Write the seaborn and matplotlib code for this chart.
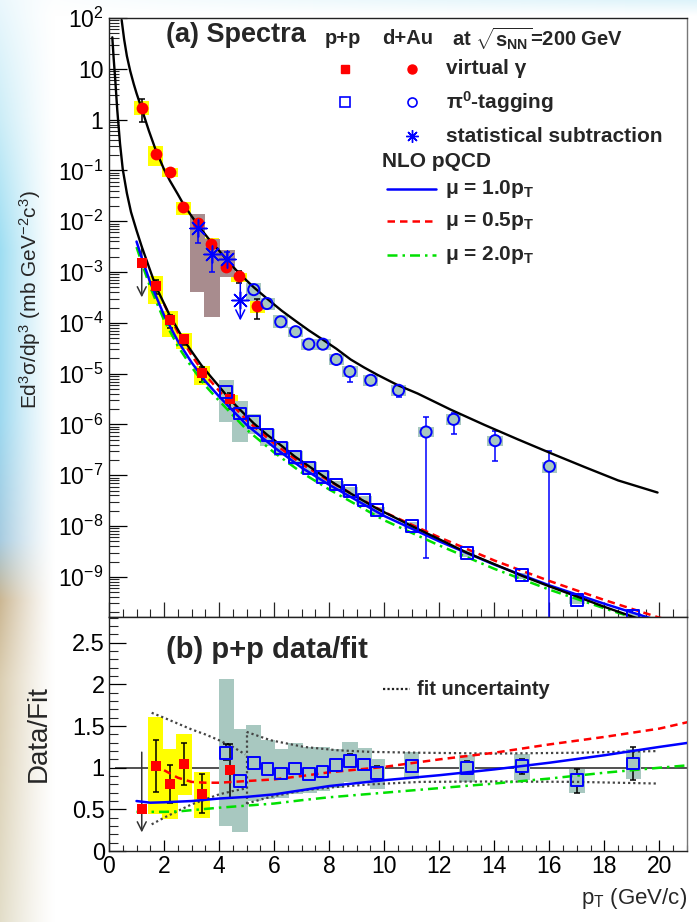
import numpy as np
import matplotlib
matplotlib.use("Agg")
import matplotlib.pyplot as plt
import seaborn as sns
from matplotlib.ticker import FixedLocator, FixedFormatter, MultipleLocator, NullFormatter, FuncFormatter

# ---------------------------------------------------------------- data
# (a) spectra: d+Au virtual photons (red circles)
dau_vg_pt = [1.19, 1.70, 2.21, 2.70, 3.22, 3.70, 4.24, 4.72, 5.39]
dau_vg_y = [1.7, 0.21, 0.091, 0.019, 0.0091, 0.0035, 0.00125, 8.3e-4, 2.1e-4]
dau_vg_hi = [2.55, 0.21, 0.091, 0.019, 0.0105, 0.0035, 0.00125, 1.07e-3, 2.9e-4]
dau_vg_lo = [0.90, 0.21, 0.091, 0.019, 0.0080, 0.0035, 0.00125, 6.0e-4, 1.17e-4]
dau_vg_sys_hi = [1.35, 1.41, 1.20, 1.26, 1.35, 1.32, 1.26, 1.17, 1.32]
dau_vg_sys_lo = [0.74, 0.59, 0.83, 0.69, 0.74, 0.76, 0.78, 0.78, 0.74]

# d+Au statistical subtraction (blue stars)
dau_ss_pt = [3.22, 3.74, 4.29]
dau_ss_y = [7.2e-3, 2.3e-3, 1.8e-3]
dau_ss_hi = [9.1e-3, 3.8e-3, 2.5e-3]
dau_ss_lo = [3.8e-3, 9.8e-4, 1.4e-3]
dau_ss_sys_hi = [1.38e-2, 4.4e-3, 2.7e-3]
dau_ss_sys_lo = [4.1e-4, 1.32e-4, 8.1e-4]
dau_ss_lim_pt = [4.77]
dau_ss_lim_y = [2.8e-4]
dau_ss_lim_top = [6.9e-4]
dau_ss_lim_tip = [9.8e-5]

# d+Au pi0 tagging (blue open circles)
dau_pi0_pt = [5.26, 5.74, 6.24, 6.78, 7.26, 7.77, 8.26, 8.75, 9.51, 10.52, 11.52, 12.52, 14.03, 16.0]
dau_pi0_y = [4.5e-4, 2.4e-4, 1.05e-4, 6.7e-5, 3.8e-5, 3.8e-5, 1.9e-5, 1.1e-5, 7.4e-6, 4.7e-6,
             7.1e-7, 1.26e-6, 4.8e-7, 1.5e-7]
dau_pi0_hi = [4.9e-4, 2.6e-4, 1.2e-4, 7.4e-5, 4.3e-5, 4.2e-5, 2.1e-5, 1.35e-5, 8.3e-6, 5.4e-6,
              1.4e-6, 1.7e-6, 7.4e-7, 3.0e-7]
dau_pi0_lo = [4.1e-4, 2.2e-4, 9.2e-5, 6.0e-5, 3.3e-5, 3.4e-5, 1.7e-5, 6.9e-6, 6.4e-6, 3.4e-6,
              2.3e-9, 6.6e-7, 1.95e-7, 1e-12]
dau_pi0_sys_hi = [1.35, 1.30, 1.35, 1.26, 1.26, 1.26, 1.30, 1.30, 1.26, 1.26, 1.26, 1.26, 1.26, 1.23]
dau_pi0_sys_lo = [0.59, 0.75, 0.74, 0.78, 0.78, 0.78, 0.78, 0.78, 0.78, 0.78, 0.78, 0.78, 0.78, 0.74]

# p+p virtual photons (red squares); ratio = data/fit
pp_vg_pt = [1.19, 1.69, 2.21, 2.73, 3.38, 4.41]
pp_vg_y = [1.48e-3, 5.4e-4, 1.12e-4, 4.8e-5, 1.02e-5, 3.1e-6]
pp_vg_ratio = [0.50, 1.025, 0.805, 1.05, 0.69, 0.97]
pp_vg_ratio_hi = [1.22, 1.33, 1.03, 1.30, 0.925, 1.29]
pp_vg_ratio_lo = [np.nan, 0.71, 0.58, 0.79, 0.46, 0.64]
pp_vg_ratio_sys_hi = [np.nan, 1.61, 1.23, 1.41, 0.95, 1.17]
pp_vg_ratio_sys_lo = [np.nan, 0.44, 0.38, 0.67, 0.40, 0.75]
pp_vg_lim_tip = 2.8e-4
pp_vg_ratio_lim_tip = 0.19

# p+p pi0 tagging (blue open squares)
pp_pi0_pt = [4.26, 4.76, 5.26, 5.76, 6.26, 6.77, 7.26, 7.76, 8.26, 8.75, 9.27, 9.75,
             11.0, 13.0, 15.0, 17.0, 19.05]
pp_pi0_y = [4.3e-6, 1.64e-6, 1.13e-6, 6.1e-7, 3.5e-7, 2.3e-7, 1.37e-7, 9.4e-8, 6.6e-8, 4.9e-8,
            3.3e-8, 2.05e-8, 1.02e-8, 3.0e-9, 1.07e-9, 3.5e-10, 1.7e-10]
pp_pi0_ratio = [1.18, 0.845, 1.06, 0.985, 0.93, 0.99, 0.92, 0.955, 1.03, 1.08, 1.04, 0.94,
                1.025, 1.00, 1.02, 0.85, 1.05]
pp_pi0_ratio_hi = [1.28, 0.91, 1.09, 1.015, 0.96, 1.02, 0.95, 0.985, 1.06, 1.16, 1.07, 1.015,
                   1.06, 1.08, 1.10, 0.98, 1.25]
pp_pi0_ratio_lo = [1.09, 0.77, 1.03, 0.955, 0.90, 0.96, 0.89, 0.925, 1.00, 1.05, 1.01, 0.86,
                   0.99, 0.95, 0.925, 0.70, 0.85]
pp_pi0_ratio_sys_hi = [2.06, 1.46, 1.51, 1.33, 1.22, 1.30, 1.25, 1.25, 1.23, 1.31, 1.24, 1.11,
                       1.19, 1.15, 1.16, 0.98, 1.22]
pp_pi0_ratio_sys_lo = [0.30, 0.23, 0.60, 0.62, 0.64, 0.68, 0.70, 0.72, 0.76, 0.83, 0.82, 0.75,
                       0.865, 0.83, 0.85, 0.70, 0.87]

# fits to the spectra
dau_fit_pt = [0.46, 0.55, 0.65, 0.77, 0.90, 1.00, 1.19, 1.45, 1.70, 2.00, 2.21, 2.50, 2.72, 3.00,
              3.35, 3.70, 4.00, 4.38, 4.72, 5.26, 5.80, 6.27, 6.80, 7.26, 7.76, 8.26, 8.78, 9.27,
              9.75, 10.5, 11.21, 12.42, 13.64, 14.85, 16.07, 17.28, 18.5, 19.93]
dau_fit_y = [91, 38, 17.8, 9.1, 5.0, 3.3, 1.62, 0.60, 0.25, 0.105, 0.063, 0.034, 0.0209, 0.0126,
             6.9e-3, 3.98e-3, 2.63e-3, 1.51e-3, 9.5e-4, 5.0e-4, 2.82e-4, 1.74e-4, 1.07e-4, 7.1e-5,
             4.7e-5, 3.09e-5, 1.9e-5, 1.32e-5, 9.5e-6, 5.9e-6, 4.07e-6, 1.95e-6, 9.8e-7, 5.1e-7,
             2.69e-7, 1.45e-7, 7.9e-8, 4.57e-8]
pp_fit_pt = [0.12, 0.17, 0.22, 0.30, 0.40, 0.50, 0.65, 0.80, 1.00, 1.19, 1.45, 1.70, 2.00, 2.21,
             2.50, 2.72, 3.00, 3.35, 3.70, 4.00, 4.38, 4.80, 5.26, 5.74, 6.27, 6.75, 7.26, 7.76,
             8.26, 8.75, 9.27, 9.75, 11.0, 12.0, 13.0, 14.0, 15.0, 16.0, 17.0, 18.0, 19.0, 20.0]
pp_fit_y = [41.7, 15.8, 6.9, 1.55, 0.339, 0.105, 0.0355, 0.0151, 6.6e-3, 3.16e-3, 1.26e-3,
            5.25e-4, 2.4e-4, 1.38e-4, 7.4e-5, 4.57e-5, 2.75e-5, 1.48e-5, 8.7e-6, 5.6e-6, 3.16e-6,
            1.86e-6, 1.05e-6, 6.3e-7, 3.8e-7, 2.34e-7, 1.51e-7, 9.8e-8, 6.5e-8, 4.47e-8, 3.09e-8,
            2.19e-8, 1.0e-8, 5.5e-9, 3.0e-9, 1.78e-9, 1.05e-9, 6.5e-10, 4.1e-10, 2.57e-10,
            1.66e-10, 1.07e-10]

# NLO pQCD, p+p
nlo10_pt = [1.0, 1.25, 1.5, 2.0, 2.5, 3.0, 3.5, 4.0, 5.0, 6.0, 7.0, 8.0, 10, 12, 14, 16, 18, 20, 20.5]
nlo10_y = [3.98e-3, 1.51e-3, 6.2e-4, 1.41e-4, 4.4e-5, 1.66e-5, 7.1e-6, 3.55e-6, 9.8e-7, 3.55e-7,
           1.41e-7, 6.5e-8, 1.58e-8, 5.0e-9, 1.74e-9, 6.8e-10, 2.95e-10, 1.35e-10, 1.15e-10]
nlo05_pt = [2.0, 2.5, 3.0, 3.5, 4.0, 5.0, 6.0, 7.0, 8.0, 10, 12, 14, 16, 18, 20, 20.5]
nlo05_y = [2.33e-4, 6.5e-5, 2.29e-5, 9.4e-6, 4.6e-6, 1.21e-6, 4.2e-7, 1.67e-7, 7.7e-8, 1.88e-8,
           6.0e-9, 2.1e-9, 8.3e-10, 3.5e-10, 1.57e-10, 1.35e-10]
nlo20_pt = [1.0, 1.25, 1.5, 2.0, 2.5, 3.0, 3.5, 4.0, 5.0, 6.0, 7.0, 8.0, 10, 12, 14, 16, 18, 20]
nlo20_y = [3.1e-3, 1.21e-3, 5.0e-4, 1.13e-4, 3.5e-5, 1.35e-5, 5.8e-6, 2.92e-6, 7.9e-7, 2.8e-7,
           1.13e-7, 5.25e-8, 1.3e-8, 4.15e-9, 1.44e-9, 5.6e-10, 2.4e-10, 1.07e-10]

# (b) NLO / fit
r10_pt = [1.0, 1.5, 2.0, 3.0, 4.0, 5.0, 6.0, 7.0, 8.0, 10, 12, 14, 16, 18, 20, 21.06]
r10 = [0.60, 0.58, 0.585, 0.60, 0.63, 0.65, 0.68, 0.73, 0.78, 0.85, 0.91, 0.98, 1.06, 1.15, 1.25, 1.30]
r05_pt = [2.0, 2.5, 3.0, 3.5, 4.0, 5.0, 6.0, 7.0, 8.0, 10, 12, 14, 16, 18, 20, 21.06]
r05 = [0.97, 0.88, 0.83, 0.82, 0.82, 0.84, 0.86, 0.90, 0.945, 1.01, 1.10, 1.18, 1.28, 1.37, 1.47, 1.55]
r20_pt = [1.0, 1.5, 2.0, 2.5, 3.0, 3.5, 4.0, 5.0, 6.0, 7.0, 8.0, 10, 12, 14, 16, 18, 20, 21.06]
r20 = [0.47, 0.47, 0.47, 0.475, 0.49, 0.505, 0.52, 0.545, 0.57, 0.61, 0.645, 0.70, 0.755, 0.81,
       0.87, 0.94, 1.00, 1.03]

# fit uncertainty bands
unc_lo_pt = [1.55, 2.0, 2.5, 3.0, 3.5, 4.0, 4.5, 4.95]
unc_lo_up = [1.66, 1.60, 1.53, 1.46, 1.40, 1.33, 1.25, 1.16]
unc_lo_dn = [0.32, 0.40, 0.48, 0.56, 0.62, 0.68, 0.72, 0.75]
unc_hi_pt = [5.0, 5.87, 7.08, 8.29, 9.5, 11.33, 14.0, 17.0, 19.93]
unc_hi_up = [1.43, 1.33, 1.25, 1.21, 1.19, 1.18, 1.17, 1.18, 1.20]
unc_hi_dn = [0.57, 0.65, 0.73, 0.77, 0.80, 0.83, 0.835, 0.83, 0.81]

log_ticks = [1e-9, 1e-8, 1e-7, 1e-6, 1e-5, 1e-4, 1e-3, 1e-2, 1e-1, 1, 10, 100]
log_tick_labels = [r"$10^{-9}$", r"$10^{-8}$", r"$10^{-7}$", r"$10^{-6}$", r"$10^{-5}$",
                   r"$10^{-4}$", r"$10^{-3}$", r"$10^{-2}$", r"$10^{-1}$", "1", "10", r"$10^{2}$"]

# ---------------------------------------------------------------- style
sns.set_theme(style="ticks")
plt.rcParams["font.family"] = ["Liberation Sans", "DejaVu Sans"]
plt.rcParams["mathtext.fontset"] = "custom"
plt.rcParams["mathtext.rm"] = "Liberation Sans"
plt.rcParams["mathtext.it"] = "Liberation Sans"
plt.rcParams["mathtext.bf"] = "Liberation Sans:bold"
plt.rcParams["mathtext.sf"] = "Liberation Sans"
plt.rcParams["mathtext.default"] = "regular"
plt.rcParams["axes.linewidth"] = 1.0

RED = "#ff0000"
BLUE = "#0000ff"
GREEN = "#00e000"
YELLOW = "#ffff00"
SYSGRAY = "#a8c8c0"
BROWN = "#a88c8e"
HW = 0.28  # half width of systematic boxes

fig = plt.figure(figsize=(6.97, 9.22), dpi=100)

# slide background
H, W = 922, 697
yy, xx = np.mgrid[0:H, 0:W]
stops_y = np.array([0, 120, 250, 420, 540, 600, 680, 922])
stops_c = np.array([[0.92, 0.97, 0.99], [0.80, 0.93, 0.97], [0.62, 0.87, 0.95],
                    [0.62, 0.85, 0.94], [0.66, 0.80, 0.88], [0.80, 0.72, 0.58],
                    [0.86, 0.81, 0.70], [0.89, 0.87, 0.79]])
col_y = np.stack([np.interp(np.arange(H), stops_y, stops_c[:, k]) for k in range(3)], axis=1)
w = np.clip(1 - xx / 55.0, 0, 1) ** 1.3
bg = np.ones((H, W, 3)) * (1 - w[..., None]) + col_y[:, None, :] * w[..., None]
wt = np.clip(1 - yy / 16.0, 0, 1) * np.clip(xx / W, 0, 1) * 0.7
bg = bg * (1 - wt[..., None]) + np.array([0.80, 0.93, 0.97]) * wt[..., None]
axbg = fig.add_axes([0, 0, 1, 1], zorder=-10)
axbg.imshow(bg, aspect="auto", extent=[0, 1, 0, 1])
axbg.axis("off")

ax1 = fig.add_axes([109 / 697, 305 / 922, 578 / 697, 599 / 922])
ax2 = fig.add_axes([109 / 697, 71 / 922, 578 / 697, 234 / 922])
for ax in (ax1, ax2):
    ax.set_facecolor("white")
    ax.set_xlim(0, 21)
    for s in ax.spines.values():
        s.set_color("#222222")
        s.set_linewidth(1.0)
ax1.spines["right"].set_color("#777777")
ax2.spines["right"].set_color("#777777")

ax1.set_yscale("log")
ax1.set_ylim(10 ** -9.79, 100)
ax2.set_ylim(0, 2.81)


def boxes(ax, x, lo, hi, color, z=1):
    x = np.asarray(x, float)
    lo = np.asarray(lo, float)
    hi = np.asarray(hi, float)
    ok = np.isfinite(lo) & np.isfinite(hi)
    ax.bar(x[ok], (hi - lo)[ok], bottom=lo[ok], width=2 * HW, color=color,
           linewidth=0, zorder=z, align="center")


def bars(ax, x, y, lo, hi, color, r_px=0.0, cap_px=3.0, z=3):
    """Error bars drawn only outside the marker, with small caps."""
    fwd = ax.transData
    inv = fwd.inverted()
    for xi, yi, l, h in zip(x, y, lo, hi):
        if not (np.isfinite(l) and np.isfinite(h)):
            continue
        px, py = fwd.transform((xi, yi))
        _, y_top = inv.transform((px, py + r_px))
        _, y_bot = inv.transform((px, py - r_px))
        x_l, _ = inv.transform((px - cap_px, py))
        x_r, _ = inv.transform((px + cap_px, py))
        if h > y_top:
            ax.vlines(xi, y_top, h, color=color, lw=1.1, zorder=z)
            ax.hlines(h, x_l, x_r, color=color, lw=1.1, zorder=z)
        if l < y_bot:
            ax.vlines(xi, l, y_bot, color=color, lw=1.1, zorder=z)
            ax.hlines(l, x_l, x_r, color=color, lw=1.1, zorder=z)


def curve(ax, x, y, color, ls="-", lw=1.8, z=4):
    sns.lineplot(x=x, y=y, ax=ax, color=color, linestyle=ls, linewidth=lw,
                 estimator=None, sort=False, zorder=z, legend=False)


def points(ax, x, y, marker, size, color, filled=True, z=6, lw=1.4):
    if filled:
        sns.scatterplot(x=x, y=y, ax=ax, marker=marker, s=size, color=color,
                        edgecolor=color, linewidth=0, zorder=z, legend=False)
    else:
        sns.scatterplot(x=x, y=y, ax=ax, marker=marker, s=size, facecolor="none",
                        edgecolor=color, linewidth=lw, zorder=z, legend=False)


# ---------------------------------------------------------------- (a) spectra
dvy = np.asarray(dau_vg_y)
boxes(ax1, dau_vg_pt, dvy * dau_vg_sys_lo, dvy * dau_vg_sys_hi, YELLOW)
boxes(ax1, dau_ss_pt, dau_ss_sys_lo, dau_ss_sys_hi, BROWN)
dpy = np.asarray(dau_pi0_y)
boxes(ax1, dau_pi0_pt, dpy * dau_pi0_sys_lo, dpy * dau_pi0_sys_hi, SYSGRAY)

ppy = np.asarray(pp_vg_y)
ppr = np.asarray(pp_vg_ratio)
boxes(ax1, pp_vg_pt, ppy * pp_vg_ratio_sys_lo / ppr, ppy * pp_vg_ratio_sys_hi / ppr, YELLOW)
p0y = np.asarray(pp_pi0_y)
p0r = np.asarray(pp_pi0_ratio)
boxes(ax1, pp_pi0_pt, p0y * pp_pi0_ratio_sys_lo / p0r, p0y * pp_pi0_ratio_sys_hi / p0r, SYSGRAY)

curve(ax1, dau_fit_pt, dau_fit_y, "black", lw=1.7, z=4)
curve(ax1, nlo20_pt, nlo20_y, GREEN, ls=(0, (4, 2, 1, 2)), lw=1.8, z=4)
curve(ax1, nlo05_pt, nlo05_y, RED, ls=(0, (3, 2)), lw=1.8, z=4)
curve(ax1, nlo10_pt, nlo10_y, BLUE, lw=1.8, z=4)
curve(ax1, pp_fit_pt, pp_fit_y, "black", lw=1.7, z=4.5)

bars(ax1, dau_vg_pt, dau_vg_y, dau_vg_lo, dau_vg_hi, "black", r_px=5)
bars(ax1, dau_ss_pt, dau_ss_y, dau_ss_lo, dau_ss_hi, BLUE, r_px=2)
bars(ax1, dau_pi0_pt, dau_pi0_y, dau_pi0_lo, dau_pi0_hi, BLUE, r_px=5.5)
bars(ax1, pp_vg_pt[1:], pp_vg_y[1:], (ppy * pp_vg_ratio_lo / ppr)[1:],
     (ppy * pp_vg_ratio_hi / ppr)[1:], "black", r_px=5)
bars(ax1, pp_pi0_pt, pp_pi0_y, p0y * pp_pi0_ratio_lo / p0r, p0y * pp_pi0_ratio_hi / p0r, BLUE,
     r_px=6)

# upper limits
ax1.annotate("", xy=(pp_vg_pt[0], pp_vg_lim_tip),
             xytext=(pp_vg_pt[0], ppy[0] * pp_vg_ratio_hi[0] / ppr[0]),
             arrowprops=dict(arrowstyle="->", color="#333333", lw=1.1, mutation_scale=16),
             zorder=3)
ax1.annotate("", xy=(dau_ss_lim_pt[0], dau_ss_lim_tip[0]),
             xytext=(dau_ss_lim_pt[0], dau_ss_lim_top[0]),
             arrowprops=dict(arrowstyle="->", color=BLUE, lw=1.1, mutation_scale=16),
             zorder=3)

STAR = (8, 2, 0)
points(ax1, dau_vg_pt, dau_vg_y, "o", 72, RED)
points(ax1, pp_vg_pt, pp_vg_y, "s", 55, RED)
points(ax1, dau_pi0_pt, dau_pi0_y, "o", 64, BLUE, filled=False)
points(ax1, pp_pi0_pt, pp_pi0_y, "s", 72, BLUE, filled=False)
sns.scatterplot(x=dau_ss_pt + dau_ss_lim_pt, y=dau_ss_y + dau_ss_lim_y, ax=ax1, marker=STAR,
                s=150, color=BLUE, edgecolor=BLUE, linewidth=1.1, zorder=6, legend=False)

# axis ticks (a)
ax1.yaxis.set_major_locator(FixedLocator(log_ticks))
ax1.yaxis.set_major_formatter(FixedFormatter(log_tick_labels))
minors = [m * 10.0 ** e for e in range(-10, 2) for m in range(2, 10)]
ax1.yaxis.set_minor_locator(FixedLocator(minors))
ax1.yaxis.set_minor_formatter(NullFormatter())
ax1.xaxis.set_major_locator(MultipleLocator(2))
ax1.xaxis.set_minor_locator(MultipleLocator(0.5))
ax1.tick_params(axis="y", which="major", direction="in", length=13, width=0.9,
                labelsize=16.5, pad=4, colors="black")
ax1.tick_params(axis="y", which="minor", direction="in", length=7, width=0.8)
ax1.tick_params(axis="x", which="major", direction="in", length=11, width=0.9, labelbottom=False)
ax1.tick_params(axis="x", which="minor", direction="in", length=6, width=0.8)
ax1.set_xlabel("")
ax1.set_ylabel("")

# legend (a)
T = ax1.transAxes
ax1.text(0.098, 0.972, "(a) Spectra", transform=T, fontsize=19.5, fontweight="bold",
         ha="left", va="center")
ax1.text(0.374, 0.966, "p+p", transform=T, fontsize=14.5, fontweight="bold", ha="left", va="center")
ax1.text(0.472, 0.966, "d+Au", transform=T, fontsize=14.5, fontweight="bold", ha="left", va="center")
ax1.text(0.593, 0.966, r"at $\sqrt{\mathbf{s}_{\mathbf{NN}}}$=200 GeV", transform=T, fontsize=14.5,
         fontweight="bold", ha="left", va="center")
leg_rows = [0.915, 0.860, 0.803]
ax1.plot([0.408], [leg_rows[0]], "s", ms=6, color=RED, transform=T, clip_on=False)
ax1.plot([0.524], [leg_rows[0]], "o", ms=6.5, color=RED, transform=T, clip_on=False)
ax1.plot([0.408], [leg_rows[1]], "s", ms=6.5, mfc="none", mec=BLUE, mew=1.2, transform=T)
ax1.plot([0.524], [leg_rows[1]], "o", ms=6.5, mfc="none", mec=BLUE, mew=1.2, transform=T)
ax1.plot([0.524], [leg_rows[2]], marker=STAR, ms=9, color=BLUE, mew=1.0, transform=T)
ax1.text(0.583, leg_rows[0], "virtual γ", transform=T, fontsize=15, fontweight="bold", va="center")
ax1.text(0.583, leg_rows[1], r"π$^{0}$-tagging", transform=T, fontsize=15, fontweight="bold",
         va="center")
ax1.text(0.583, leg_rows[2], "statistical subtraction", transform=T, fontsize=15,
         fontweight="bold", va="center")
ax1.text(0.472, 0.761, "NLO pQCD", transform=T, fontsize=15, fontweight="bold", va="center")
nlo_rows = [(0.7145, BLUE, "-", "μ = 1.0p$_{T}$"),
            (0.661, RED, (0, (3, 2)), "μ = 0.5p$_{T}$"),
            (0.604, GREEN, (0, (4, 2, 1, 2)), "μ = 2.0p$_{T}$")]
for yrow, c, ls, lab in nlo_rows:
    ax1.plot([0.481, 0.566], [yrow, yrow], color=c, ls=ls, lw=1.8, transform=T)
    ax1.text(0.581, yrow, lab, transform=T, fontsize=15, fontweight="bold", va="center")

# ---------------------------------------------------------------- (b) data / fit
ax2.hlines(1.0, 0.2, 21, color="#222222", lw=1.1, zorder=0.5)
boxes(ax2, pp_vg_pt, pp_vg_ratio_sys_lo, pp_vg_ratio_sys_hi, YELLOW)
boxes(ax2, pp_pi0_pt, pp_pi0_ratio_sys_lo, pp_pi0_ratio_sys_hi, SYSGRAY)

DOT = (0, (1, 1.3))
for xs, ys in [(unc_lo_pt, unc_lo_up), (unc_lo_pt, unc_lo_dn),
               (unc_hi_pt, unc_hi_up), (unc_hi_pt, unc_hi_dn)]:
    curve(ax2, xs, ys, "#444444", ls=DOT, lw=1.6, z=2)
curve(ax2, [unc_hi_pt[0], unc_hi_pt[0]], [unc_hi_dn[0], unc_hi_up[0]], "#444444", ls=DOT, lw=1.6, z=2)

curve(ax2, r20_pt, r20, GREEN, ls=(0, (4, 2, 1, 2)), lw=1.8, z=4)
curve(ax2, r05_pt, r05, RED, ls=(0, (3, 2)), lw=1.8, z=4)
curve(ax2, r10_pt, r10, BLUE, lw=1.8, z=4)

bars(ax2, pp_vg_pt[1:], pp_vg_ratio[1:], pp_vg_ratio_lo[1:], pp_vg_ratio_hi[1:], "black", r_px=5)
bars(ax2, pp_pi0_pt, pp_pi0_ratio, pp_pi0_ratio_lo, pp_pi0_ratio_hi, "black", r_px=6)
ax2.annotate("", xy=(pp_vg_pt[0], pp_vg_ratio_lim_tip), xytext=(pp_vg_pt[0], pp_vg_ratio_hi[0]),
             arrowprops=dict(arrowstyle="->", color="#333333", lw=1.1, mutation_scale=16),
             zorder=3)
points(ax2, pp_vg_pt, pp_vg_ratio, "s", 55, RED)
points(ax2, pp_pi0_pt, pp_pi0_ratio, "s", 72, BLUE, filled=False)

ax2.yaxis.set_major_locator(MultipleLocator(0.5))
ax2.yaxis.set_minor_locator(MultipleLocator(0.1))
ax2.yaxis.set_major_formatter(FuncFormatter(lambda v, p: f"{v:g}"))
ax2.xaxis.set_major_locator(MultipleLocator(2))
ax2.xaxis.set_minor_locator(MultipleLocator(0.5))
ax2.xaxis.set_major_formatter(FuncFormatter(lambda v, p: f"{v:g}"))
ax2.tick_params(axis="y", which="major", direction="in", length=12, width=0.9,
                labelsize=17, pad=3, colors="black")
ax2.tick_params(axis="y", which="minor", direction="in", length=6.5, width=0.8)
ax2.tick_params(axis="x", which="major", direction="in", length=8, width=0.9,
                labelsize=16.5, pad=3, colors="black")
ax2.tick_params(axis="x", which="minor", direction="in", length=4.5, width=0.8)
ax2.set_xlabel("")
ax2.set_ylabel("")

T2 = ax2.transAxes
ax2.text(0.098, 0.859, "(b) p+p data/fit", transform=T2, fontsize=21, fontweight="bold",
         ha="left", va="center")
ax2.plot([0.474, 0.521], [0.692, 0.692], color="#222222", ls=(0, (1, 1)), lw=1.6, transform=T2)
ax2.text(0.533, 0.692, "fit uncertainty", transform=T2, fontsize=14.5, fontweight="bold",
         va="center")

# axis titles
fig.text(0.043, 0.675, r"Ed$^{3}$σ/dp$^{3}$ (mb GeV$^{-2}$c$^{3}$)", rotation=90,
         ha="center", va="center", fontsize=15)
fig.text(0.056, 0.2044, "Data/Fit", rotation=90, ha="center", va="center", fontsize=20)
fig.text(0.9857, 0.026, r"p$_{T}$ (GeV/c)", ha="right", va="center", fontsize=16)

fig.savefig("out.png", dpi=100)
